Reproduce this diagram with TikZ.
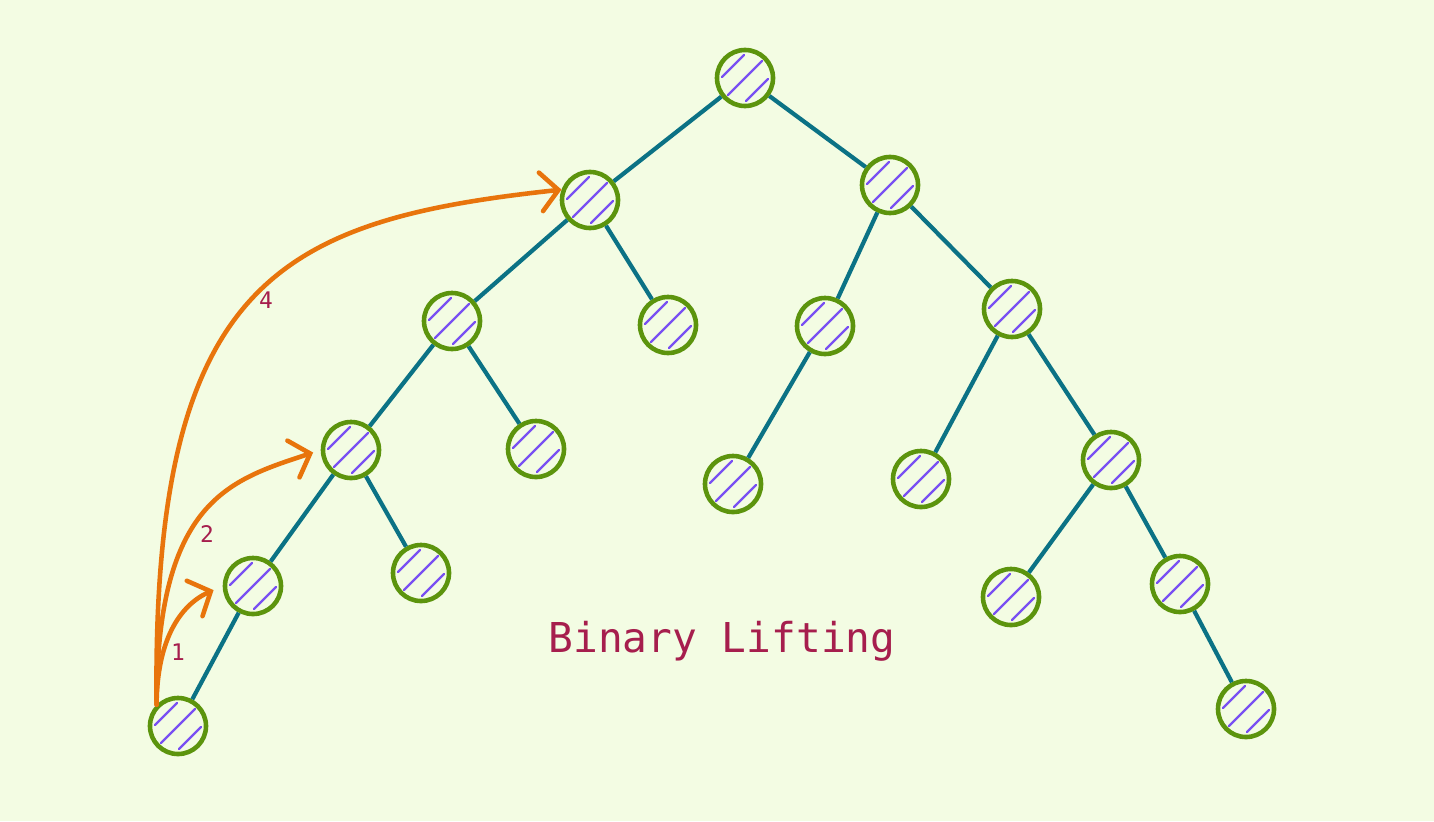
\documentclass[tikz,border=0pt]{standalone}
\usepackage{fontspec}
\setmonofont{DejaVu Sans Mono}
\usetikzlibrary{arrows.meta}

\definecolor{bgcol}{HTML}{F3FCE3}
\definecolor{edgecol}{HTML}{0B7285}
\definecolor{ringcol}{HTML}{5C940D}
\definecolor{hatchcol}{HTML}{7950F2}
\definecolor{jumpcol}{HTML}{E8740C}
\definecolor{textcol}{HTML}{A61E4D}

\begin{document}
\begin{tikzpicture}[
  x=0.01cm, y=-0.01cm,
  every node/.style={font=\ttfamily},
  vertex/.style={circle, draw=ringcol, line width=1.3pt, minimum size=0.56cm, inner sep=0pt,
    path picture={
      \foreach \d/\l in {-0.12/0.11, 0/0.17, 0.12/0.11}
        \draw[hatchcol, line width=0.65pt, line cap=round]
          ([shift={(\d cm,-\d cm)}]path picture bounding box.center) ++(-\l cm,-\l cm) -- ++(2*\l cm,2*\l cm);
    }},
  edge/.style={draw=edgecol, line width=1.2pt},
  jump/.style={draw=jumpcol, line width=1.3pt, line cap=round,
    -{Straight Barb[length=5pt,width=11pt,line cap=round]}},
  jumplabel/.style={text=textcol, font=\ttfamily\fontsize{6.5}{8}\selectfont}
]

% Background
\fill[bgcol] (0,0) rectangle (1434,821);

% Left branch
\node[vertex] (root) at (745,78) {};
\node[vertex] (l) at (590,200) {};
\node[vertex] (ll) at (452,321) {};
\node[vertex] (lr) at (668,325) {};
\node[vertex] (lll) at (351,450) {};
\node[vertex] (llr) at (536,449) {};
\node[vertex] (llll) at (253,586) {};
\node[vertex] (lllr) at (421,573) {};
\node[vertex] (lllll) at (178,726) {};

% Right branch
\node[vertex] (r) at (890,185) {};
\node[vertex] (rl) at (825,326) {};
\node[vertex] (rr) at (1012,309) {};
\node[vertex] (rll) at (733,484) {};
\node[vertex] (rrl) at (921,479) {};
\node[vertex] (rrr) at (1111,460) {};
\node[vertex] (rrrl) at (1011,597) {};
\node[vertex] (rrrr) at (1180,584) {};
\node[vertex] (rrrrr) at (1246,709) {};

% Tree edges
\draw[edge] (root) -- (l);
\draw[edge] (root) -- (r);
\draw[edge] (l) -- (ll);
\draw[edge] (l) -- (lr);
\draw[edge] (ll) -- (lll);
\draw[edge] (ll) -- (llr);
\draw[edge] (lll) -- (llll);
\draw[edge] (lll) -- (lllr);
\draw[edge] (llll) -- (lllll);
\draw[edge] (r) -- (rl);
\draw[edge] (r) -- (rr);
\draw[edge] (rl) -- (rll);
\draw[edge] (rr) -- (rrl);
\draw[edge] (rr) -- (rrr);
\draw[edge] (rrr) -- (rrrl);
\draw[edge] (rrr) -- (rrrr);
\draw[edge] (rrrr) -- (rrrrr);

% Jumps
\draw[jump, shorten >=0.1cm] (lllll.135) .. controls (157,640) and (180,605) .. (llll.west);
\draw[jump, shorten >=0.08cm] (lllll.135) .. controls (157,500) and (230,480) .. (lll.west);
\draw[jump] (lllll.135) .. controls (152,280) and (280,220) .. (l.160);

% Labels
\node[jumplabel] (one) at (178,652) {1};
\node[jumplabel] (two) at (207,534) {2};
\node[jumplabel] (four) at (266,300) {4};
\node[text=textcol, font=\ttfamily\fontsize{11.7}{14}\selectfont] (title) at (722,641) {Binary Lifting};

\end{tikzpicture}
\end{document}
